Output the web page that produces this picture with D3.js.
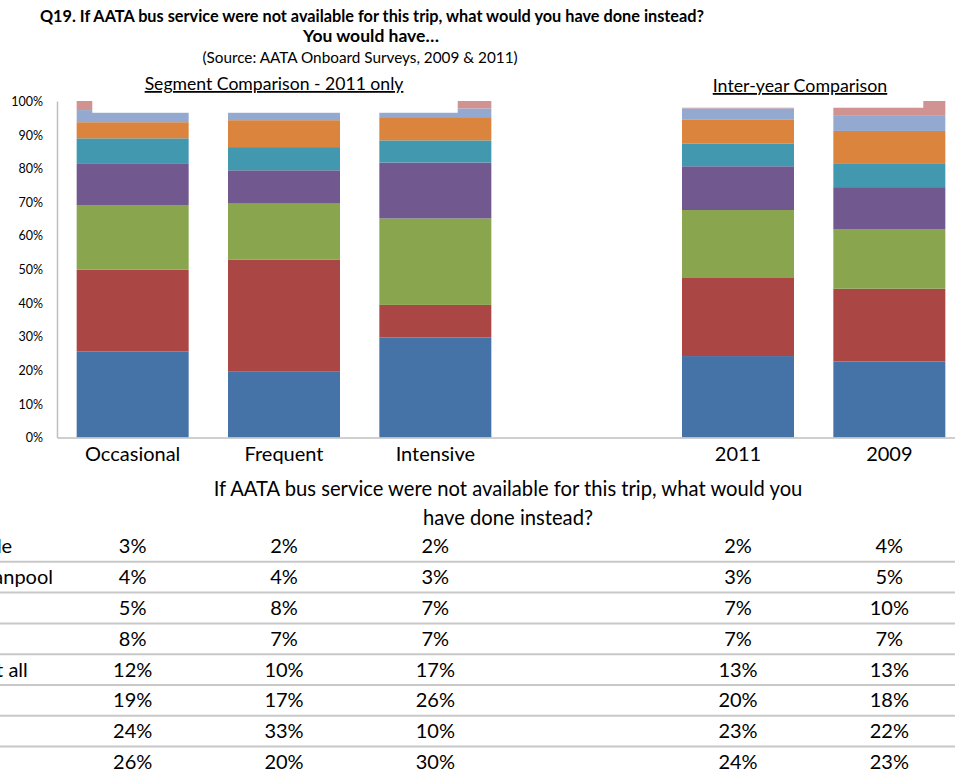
<!DOCTYPE html>
<html>
<head>
<meta charset="utf-8">
<script src="https://cdn.jsdelivr.net/npm/d3@7/dist/d3.min.js"></script>
<style>
  html, body { margin: 0; padding: 0; background: #fff; }
  svg { display: block; }
  text { font-family: Lato, "Open Sans", "Liberation Sans", sans-serif; fill: #000; }
</style>
</head>
<body>
<svg id="chart" width="955" height="772"></svg>
<script>
// ---------------- DATA ----------------
const slots = ["Occasional", "Frequent", "Intensive", "", "2011", "2009"];
const categories = ["Occasional", "Frequent", "Intensive", "2011", "2009"];
// series listed bottom of stack to top (values in %)
const seriesNames = [
  "Driven alone",
  "Gotten a ride",
  "Walked",
  "Not made the trip at all",
  "Ridden a bike",
  "Taken a taxi",
  "Used a carpool or vanpool",
  "Used any other mode"
];
const drivenAlone   = [25.6, 19.7, 29.7, 24.2, 22.6];
const gottenRide    = [24.3, 33.2,  9.7, 23.4, 21.6];
const walked        = [19.2, 16.6, 25.7, 20.0, 17.6];
const notMadeTrip   = [12.2,  9.9, 16.6, 13.0, 12.6];
const riddenBike    = [ 7.6,  6.9,  6.6,  6.8,  6.9];
const takenTaxi     = [ 4.8,  8.0,  6.9,  7.0,  9.8];
const carVanpool    = [ 3.6,  3.8,  2.6,  3.4,  4.7];
const otherMode     = [ 2.7,  1.9,  2.2,  2.2,  4.2];
const seriesValues = [drivenAlone, gottenRide, walked, notMadeTrip, riddenBike, takenTaxi, carVanpool, otherMode];
const colors = ["#4572A7", "#AA4643", "#89A54E", "#71588F", "#4198AF", "#DB843D", "#93A9CF", "#D19392"];
const yTicks = [0, 0.1, 0.2, 0.3, 0.4, 0.5, 0.6, 0.7, 0.8, 0.9, 1.0];

const titleLines = [
  "Q19. If AATA bus service were not available for this trip, what would you have done instead?",
  "You would have\u2026"
];
const sourceLine = "(Source: AATA Onboard Surveys, 2009 & 2011)";
const tableTitle = ["If AATA bus service were not available for this trip, what would you", "have done instead?"];

// ---------------- LAYOUT ----------------
const svg = d3.select("#chart");
const x = d3.scaleBand().domain(slots).range([57, 965]).paddingInner(0.26).paddingOuter(0.13);
const y = d3.scaleLinear().domain([0, 1]).range([437.5, 101]);

const table = categories.map((c, i) => {
  const row = { category: c };
  seriesNames.forEach((s, j) => row[s] = seriesValues[j][i] / 100);
  return row;
});
const stack = d3.stack().keys(seriesNames)(table);

// bars
svg.append("g").selectAll("g").data(stack).join("g")
  .attr("fill", (d, i) => colors[i])
  .selectAll("rect").data(d => d).join("rect")
  .attr("x", d => x(d.data.category))
  .attr("width", x.bandwidth())
  .attr("y", d => y(Math.min(1, d[1])))
  .attr("height", d => Math.max(0, y(d[0]) - y(Math.min(1, d[1]))));

// white text boxes that overlap the top of the bars
svg.append("rect").attr("x", 92.3).attr("y", 68).attr("width", 457.7 - 92.3).attr("height", y(0.965) - 68).attr("fill", "#fff");
svg.append("rect").attr("x", 670).attr("y", 68).attr("width", 923.3 - 670).attr("height", y(0.98) - 68).attr("fill", "#fff");

// axes
const yAxis = svg.append("g").attr("transform", "translate(57,0)")
  .call(d3.axisLeft(y).tickValues(yTicks).tickFormat(d3.format(".0%")).tickSize(0).tickPadding(14));
yAxis.select(".domain").attr("stroke", "#BFBFBF").attr("stroke-width", 1.5);
yAxis.selectAll("text").attr("font-size", 12.5).attr("fill", "#222").attr("dy", "0.35em");

const xAxis = svg.append("g").attr("transform", `translate(0,${y(0)})`)
  .call(d3.axisBottom(x).tickSize(0).tickPadding(9).tickFormat(d => d));
xAxis.select(".domain").attr("stroke", "#BFBFBF").attr("stroke-width", 1.5);
xAxis.selectAll("text").attr("font-size", 20).attr("fill", "#000").attr("dy", "0.71em");

// titles
svg.append("text").attr("x", 372).attr("y", 22).attr("text-anchor", "middle")
  .attr("font-size", 16.3).attr("font-weight", "bold").text(titleLines[0]);
svg.append("text").attr("x", 371).attr("y", 42).attr("text-anchor", "middle")
  .attr("font-size", 17.5).attr("font-weight", "bold").text(titleLines[1]);
svg.append("text").attr("x", 360).attr("y", 63).attr("text-anchor", "middle")
  .attr("font-size", 15.3).text(sourceLine);
svg.append("text").attr("x", 274).attr("y", 90).attr("text-anchor", "middle")
  .attr("font-size", 17.6).attr("text-decoration", "underline").text("Segment Comparison - 2011 only");
svg.append("text").attr("x", 800).attr("y", 92).attr("text-anchor", "middle")
  .attr("font-size", 17.8).attr("text-decoration", "underline").text("Inter-year Comparison");

// data table
const tfs = 20;
svg.append("text").attr("x", 508).attr("y", 496).attr("text-anchor", "middle").attr("font-size", 20.2).text(tableTitle[0]);
svg.append("text").attr("x", 508).attr("y", 525).attr("text-anchor", "middle").attr("font-size", 20.2).text(tableTitle[1]);

const rowTop = 531, rowH = 30.8;
const rowsTopDown = seriesNames.map((s, j) => j).reverse();
const fmt = d3.format(".0%");
const tg = svg.append("g");
rowsTopDown.forEach((j, r) => {
  const yc = rowTop + r * rowH + rowH / 2;
  if (r > 0) {
    tg.append("line").attr("x1", 0).attr("x2", 955).attr("y1", rowTop + r * rowH).attr("y2", rowTop + r * rowH)
      .attr("stroke", "#C8C8C8").attr("stroke-width", 2);
  }
  tg.append("text").attr("class", "rowlabel").attr("y", yc).attr("dy", "0.35em").attr("font-size", tfs).text(seriesNames[j]);
  categories.forEach((c, i) => {
    tg.append("text").attr("x", x(c) + x.bandwidth() / 2).attr("y", yc).attr("dy", "0.35em")
      .attr("text-anchor", "middle").attr("font-size", tfs).text(fmt(seriesValues[j][i] / 100));
  });
});
// row labels are left aligned and run off the left edge (as in the source); carpool label ends at x=53
const refLabel = tg.selectAll(".rowlabel").filter(function() { return this.textContent === seriesNames[6]; });
const x0 = 53 - refLabel.node().getComputedTextLength();
tg.selectAll(".rowlabel").attr("x", x0);
</script>
</body>
</html>
